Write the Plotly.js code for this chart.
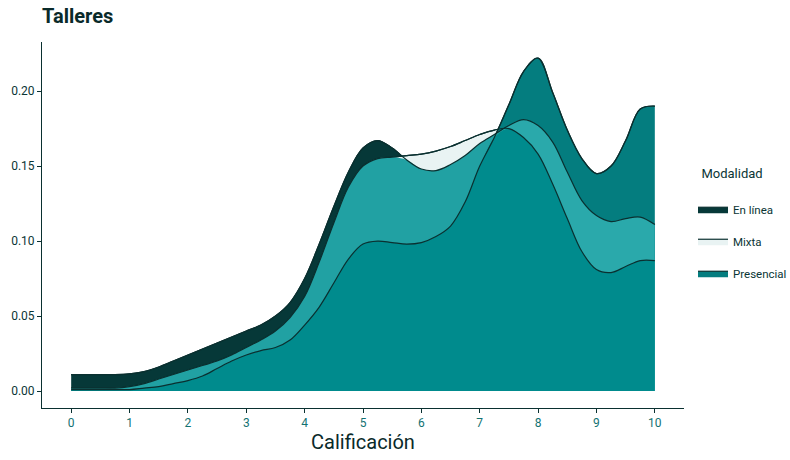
<!DOCTYPE html>
<html>
<head>
<meta charset="utf-8">
<script src="https://cdn.plot.ly/plotly-3.0.1.min.js"></script>
<style>html,body{margin:0;padding:0;background:#fff;}#chart{width:790px;height:460px;}</style>
</head>
<body>
<div id="chart"></div>
<script>
// Data (density by grade)
const calificacion = [0,0.25,0.5,0.75,1,1.25,1.5,1.75,2,2.25,2.5,2.75,3,3.25,3.5,3.75,4,4.25,4.5,4.75,5,5.25,5.5,5.75,6,6.25,6.5,6.75,7,7.25,7.5,7.75,8,8.25,8.5,8.75,9,9.25,9.5,9.75,10];
const enLinea = [0.011,0.011,0.011,0.011,0.0115,0.013,0.016,0.020,0.024,0.028,0.032,0.036,0.040,0.044,0.050,0.059,0.075,0.098,0.123,0.146,0.162,0.167,0.162,0.154,0.148,0.147,0.151,0.157,0.165,0.171,0.177,0.181,0.177,0.166,0.146,0.127,0.117,0.113,0.115,0.116,0.111];
const mixta = [0.002,0.002,0.002,0.002,0.003,0.005,0.008,0.011,0.014,0.017,0.020,0.024,0.029,0.034,0.040,0.049,0.063,0.086,0.112,0.136,0.150,0.155,0.156,0.157,0.158,0.160,0.163,0.167,0.171,0.174,0.175,0.169,0.158,0.138,0.115,0.093,0.081,0.079,0.083,0.087,0.087];
const presencial = [0.001,0.001,0.001,0.001,0.001,0.002,0.003,0.005,0.007,0.010,0.015,0.020,0.024,0.027,0.029,0.034,0.044,0.056,0.072,0.088,0.098,0.100,0.099,0.098,0.099,0.103,0.110,0.126,0.150,0.169,0.191,0.213,0.222,0.199,0.174,0.155,0.145,0.150,0.167,0.188,0.190];
const seriesNames = ["En línea","Mixta","Presencial"];
const tickVals = [0,1,2,3,4,5,6,7,8,9,10];
const yTicks = [0,0.05,0.10,0.15,0.20];
const yTickText = ["0.00","0.05","0.10","0.15","0.20"];

const cE = "#063838", cM = "#e9f3f3", cP = "#047d7f";
const cEM = "#21a1a3", cEP = "#2aa9ab", cMP = "#4fb5b6", cEMP = "#008b8d";
const outline = "#0a3030";

const minOf = (...arrs) => arrs[0].map((_, i) => Math.min(...arrs.map(a => a[i])));

function area(y, color, name, show, group) {
  return {x: calificacion, y: y, type: "scatter", mode: "lines", fill: "tozeroy",
    fillcolor: color, line: {color: show ? outline : "rgba(0,0,0,0)", width: show ? 1.2 : 0, shape: "spline", smoothing: 1},
    name: name || "", showlegend: !!show, legendgroup: group || undefined, hoverinfo: "skip"};
}
function outlineTrace(y) {
  return {x: calificacion, y: y, type: "scatter", mode: "lines",
    line: {color: outline, width: 1.2, shape: "spline", smoothing: 1}, showlegend: false, hoverinfo: "skip"};
}

const traces = [
  area(enLinea, cE, seriesNames[0], true, "g1"),
  area(mixta, cM, seriesNames[1], true, "g2"),
  area(presencial, cP, seriesNames[2], true, "g3"),
  area(minOf(enLinea, mixta), cEM),
  area(minOf(enLinea, presencial), cEP),
  area(minOf(mixta, presencial), cMP),
  area(minOf(enLinea, mixta, presencial), cEMP),
  outlineTrace(enLinea),
  outlineTrace(mixta),
  outlineTrace(presencial)
];

const fontFam = "'Liberation Sans Narrow', Roboto, 'DejaVu Sans', sans-serif";
const layout = {
  width: 790, height: 460,
  margin: {l: 42, r: 106, t: 42, b: 52, autoexpand: false},
  paper_bgcolor: "#ffffff", plot_bgcolor: "#ffffff",
  font: {family: fontFam, color: outline, size: 12},
  title: {text: "<b>Talleres</b>", x: 0, xref: "paper", xanchor: "left", y: 0.965, yanchor: "middle",
    font: {family: "Roboto, " + fontFam, size: 20, color: "#0a2a2a"}},
  xaxis: {range: [-0.5, 10.5], tickvals: tickVals, ticktext: tickVals.map(String),
    showgrid: false, zeroline: false, showline: true, linecolor: outline, linewidth: 1,
    ticks: "outside", ticklen: 4, tickcolor: outline, tickfont: {size: 12, color: "#137272"},
    title: {text: "Calificación", font: {size: 20, color: "#0a2a2a", family: "Roboto, " + fontFam}, standoff: 4}},
  yaxis: {range: [-0.0113, 0.2327], tickvals: yTicks, ticktext: yTickText,
    showgrid: false, zeroline: false, showline: true, linecolor: outline, linewidth: 1,
    ticks: "outside", ticklen: 4, tickcolor: outline, tickfont: {size: 12, color: "#0a3535"}},
  legend: {x: 1.014, xanchor: "left", y: 0.675, yanchor: "top", traceorder: "grouped", tracegroupgap: 13,
    title: {text: "&nbsp;&nbsp;Modalidad<br> ", font: {size: 13, color: "#0a3535"}}, font: {size: 11.5, color: "#0a3535"},
    bgcolor: "rgba(0,0,0,0)"},
  showlegend: true
};

Plotly.newPlot("chart", traces, layout, {staticPlot: true, displayModeBar: false});
</script>
</body>
</html>
